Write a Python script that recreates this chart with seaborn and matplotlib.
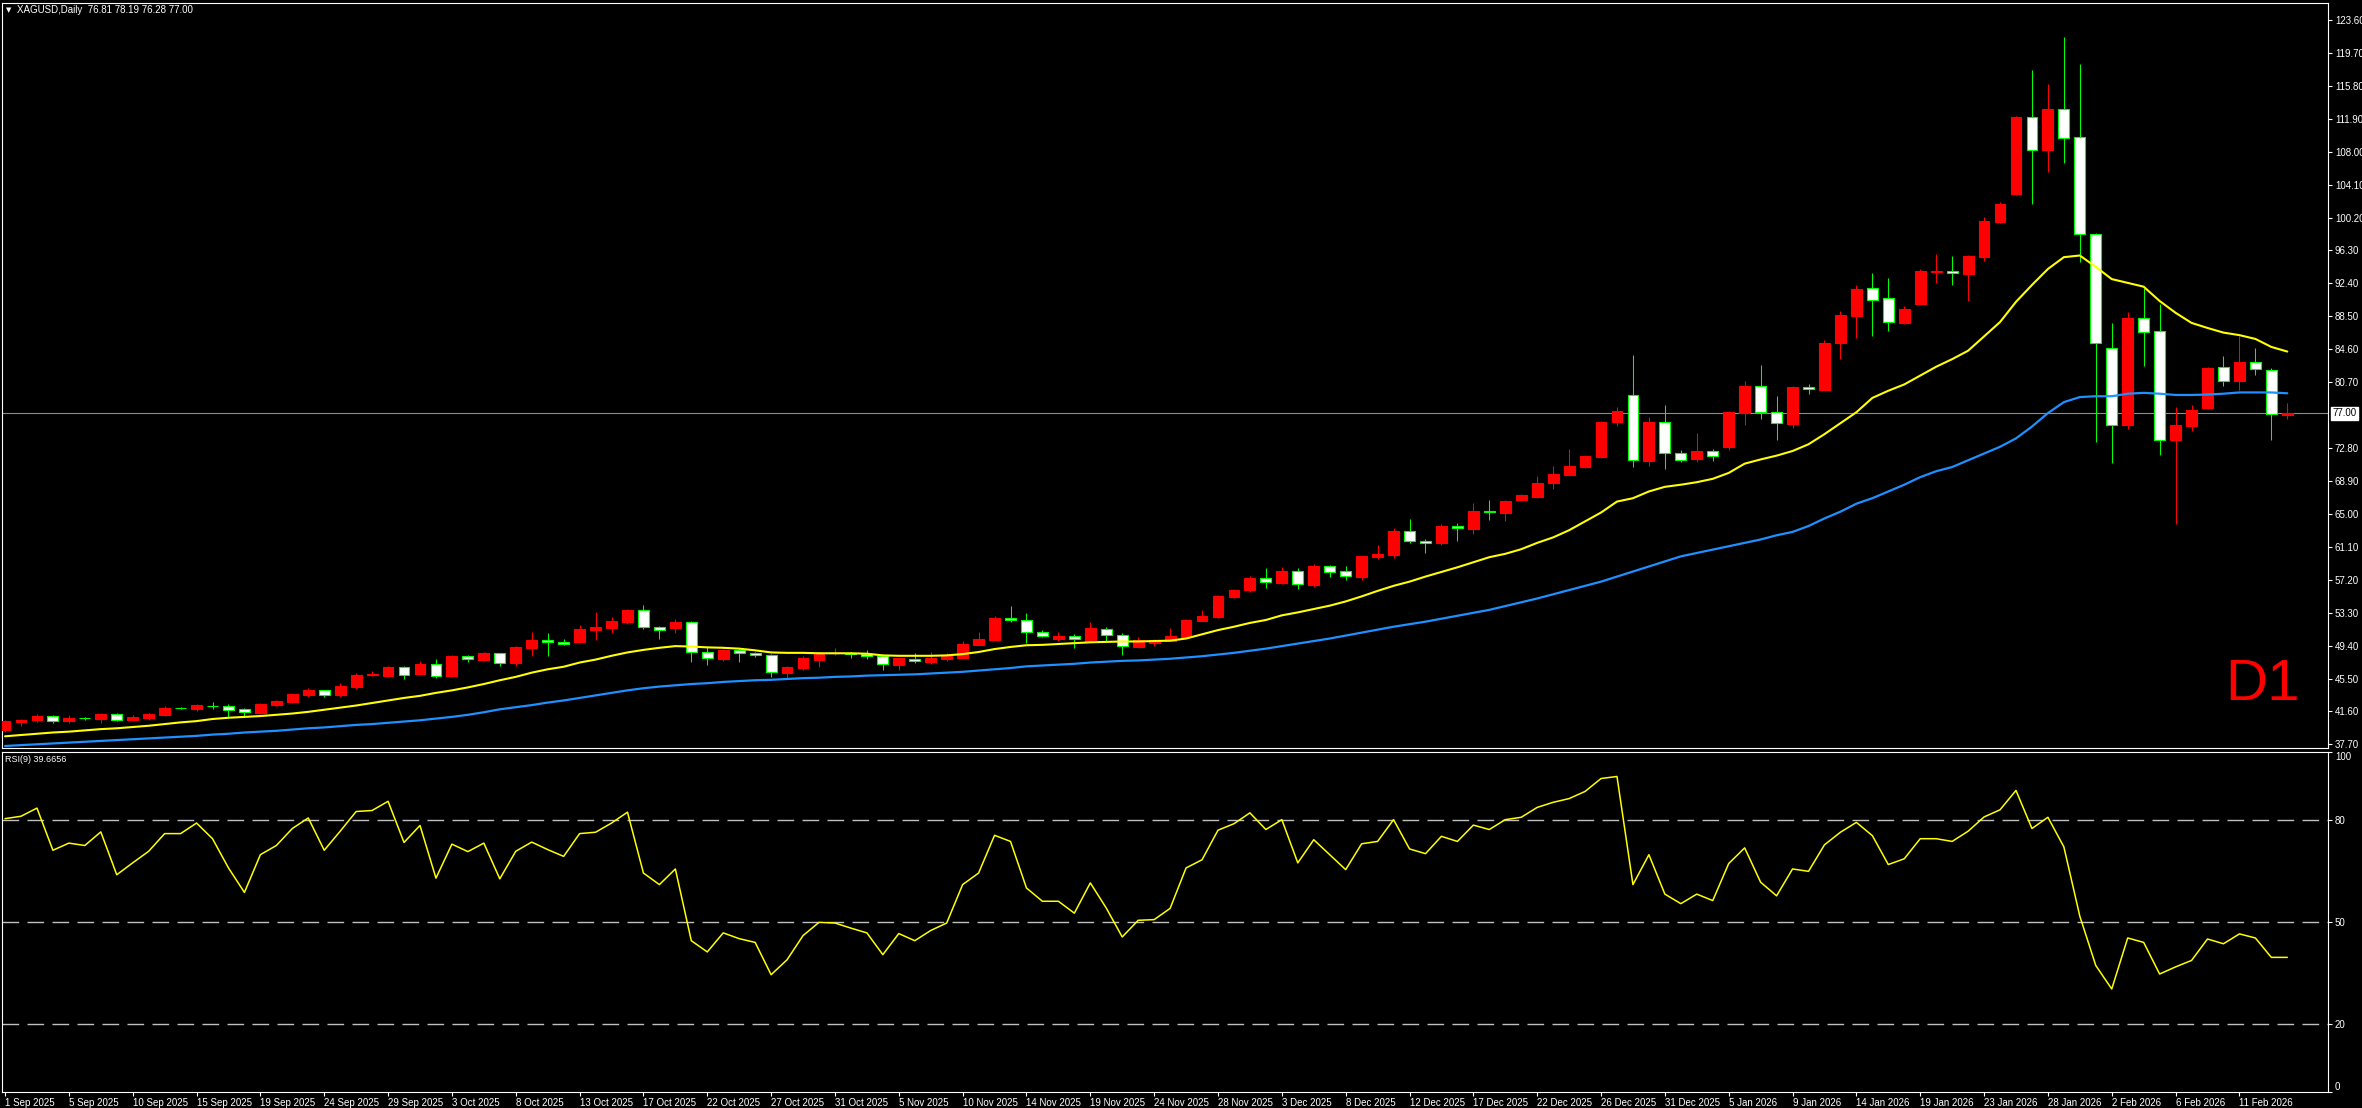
import numpy as np
import matplotlib
matplotlib.use("Agg")
import matplotlib.pyplot as plt
import matplotlib.transforms as mtransforms
import seaborn as sns

OPENS = [39.39, 40.38, 40.58, 41.01, 40.46, 40.80, 40.70, 41.29, 40.58, 40.81,
         41.17, 41.98, 41.88, 42.24, 42.24, 41.88, 41.41, 42.36, 42.71, 43.54,
         44.10, 43.54, 44.49, 45.88, 45.84, 46.87, 46.03, 47.22, 45.84, 48.17,
         47.70, 48.49, 47.38, 49.17, 50.07, 49.80, 49.88, 51.30, 51.54, 52.25,
         53.60, 51.58, 51.54, 52.17, 48.61, 47.86, 48.85, 48.49, 48.26, 46.20,
         46.79, 47.74, 48.49, 48.53, 48.41, 48.14, 47.15, 47.78, 47.50, 47.86,
         47.98, 49.48, 50.11, 52.64, 52.41, 50.98, 50.23, 50.51, 49.99, 51.34,
         50.63, 49.28, 49.68, 49.99, 50.43, 52.37, 52.80, 55.18, 56.05, 57.39,
         56.88, 58.22, 56.60, 58.82, 58.22, 57.59, 59.96, 60.20, 62.97, 61.78,
         61.62, 63.60, 63.29, 65.33, 65.19, 66.69, 67.02, 68.71, 69.64, 70.57,
         71.75, 75.89, 79.15, 71.33, 75.98, 72.30, 71.54, 72.51, 72.94, 77.03,
         80.20, 77.16, 75.68, 80.12, 79.78, 85.27, 88.56, 91.81, 90.63, 87.72,
         90.00, 93.78, 93.84, 93.50, 95.53, 99.71, 103.00, 112.08, 108.20, 113.14,
         109.76, 98.27, 84.72, 75.56, 88.31, 86.75, 73.78, 75.47, 77.58, 82.52,
         80.83, 83.07, 82.10, 76.81]
HIGHS = [40.58, 40.69, 41.29, 41.17, 41.13, 40.93, 41.45, 41.37, 41.13, 41.37,
         42.24, 42.12, 42.44, 42.71, 42.47, 41.96, 42.63, 42.90, 43.74, 44.33,
         44.18, 44.93, 46.11, 46.35, 47.02, 47.02, 47.54, 47.82, 48.29, 48.25,
         48.60, 48.57, 49.36, 51.02, 50.91, 50.19, 51.86, 53.40, 52.77, 53.75,
         54.23, 51.70, 52.57, 52.37, 49.28, 49.01, 49.01, 48.65, 48.37, 46.99,
         48.18, 48.61, 49.13, 48.65, 48.89, 48.26, 47.98, 48.49, 48.65, 48.53,
         49.96, 51.02, 52.92, 54.11, 53.24, 51.26, 50.98, 50.79, 52.21, 51.58,
         50.86, 50.39, 50.15, 51.50, 52.55, 53.63, 55.41, 56.09, 57.67, 58.62,
         58.74, 58.58, 59.09, 58.93, 58.86, 60.10, 61.39, 63.37, 64.43, 62.06,
         63.80, 63.96, 66.37, 66.69, 66.73, 67.45, 69.52, 70.70, 72.68, 72.05,
         76.10, 77.67, 83.92, 76.48, 78.00, 72.60, 74.58, 72.68, 77.24, 80.75,
         82.73, 79.02, 80.20, 80.41, 85.69, 89.15, 92.24, 93.63, 93.04, 89.70,
         94.14, 95.87, 95.61, 95.74, 100.26, 102.03, 112.30, 117.66, 116.10, 121.67,
         118.42, 98.36, 87.72, 88.98, 91.90, 90.00, 77.67, 78.00, 82.52, 83.79,
         86.11, 84.72, 82.31, 78.19]
LOWS = [39.19, 39.90, 40.38, 40.18, 40.18, 40.58, 40.26, 40.46, 40.42, 40.58,
        41.05, 41.84, 41.68, 41.92, 40.85, 40.89, 41.33, 42.30, 42.65, 43.34,
        43.34, 43.34, 44.29, 45.80, 45.72, 45.44, 45.88, 45.60, 45.72, 47.50,
        47.60, 46.98, 47.03, 48.22, 48.22, 49.44, 49.76, 50.11, 50.95, 52.01,
        51.42, 50.23, 50.95, 47.50, 47.15, 47.62, 47.50, 48.06, 45.72, 45.49,
        46.55, 46.91, 48.30, 47.98, 47.86, 46.55, 46.55, 47.38, 47.27, 47.58,
        47.90, 49.44, 50.07, 52.25, 49.76, 50.39, 49.99, 49.08, 49.90, 49.99,
        48.29, 49.20, 49.40, 49.90, 50.35, 52.29, 52.72, 55.10, 55.81, 56.28,
        56.76, 56.13, 56.40, 57.59, 57.19, 57.19, 59.73, 59.84, 61.59, 60.44,
        61.35, 61.86, 62.69, 64.31, 64.24, 66.60, 66.95, 67.95, 69.60, 70.49,
        71.70, 75.47, 70.57, 70.78, 70.36, 71.25, 71.21, 71.33, 72.60, 75.56,
        76.27, 73.78, 75.26, 79.23, 79.70, 83.37, 85.90, 86.20, 86.75, 87.59,
        89.90, 92.45, 92.24, 90.25, 95.07, 99.60, 102.88, 101.82, 105.62, 106.68,
        94.98, 73.53, 71.04, 75.13, 82.61, 72.05, 63.86, 74.92, 77.46, 80.20,
        79.69, 81.47, 73.78, 76.28]
CLOSES = [40.46, 40.62, 41.05, 40.50, 40.81, 40.77, 41.29, 40.58, 40.93, 41.29,
          42.04, 41.95, 42.36, 42.22, 41.80, 41.49, 42.47, 42.83, 43.66, 44.14,
          43.58, 44.61, 45.92, 46.07, 46.87, 45.96, 47.22, 45.84, 48.17, 47.78,
          48.53, 47.40, 49.24, 50.07, 49.80, 49.56, 51.38, 51.62, 52.33, 53.64,
          51.58, 51.22, 52.21, 48.61, 47.90, 48.89, 48.49, 48.26, 46.24, 46.87,
          47.94, 48.49, 48.53, 48.37, 48.14, 47.19, 47.94, 47.54, 47.94, 48.22,
          49.60, 50.19, 52.69, 52.41, 50.98, 50.51, 50.55, 50.15, 51.50, 50.63,
          49.32, 50.03, 50.03, 50.55, 52.45, 52.92, 55.30, 56.01, 57.43, 56.92,
          58.26, 56.68, 58.86, 58.18, 57.63, 60.04, 60.28, 63.01, 61.78, 61.55,
          63.60, 63.33, 65.38, 65.30, 66.57, 67.24, 68.76, 69.73, 70.70, 71.88,
          75.98, 77.24, 71.42, 75.98, 72.30, 71.42, 72.51, 71.96, 77.16, 80.20,
          77.16, 75.77, 80.12, 79.86, 85.35, 88.65, 91.73, 90.46, 87.80, 89.36,
          93.84, 93.84, 93.59, 95.61, 99.75, 101.86, 112.08, 108.20, 113.14, 109.63,
          98.27, 85.27, 75.64, 88.31, 86.62, 73.78, 75.56, 77.33, 82.40, 80.83,
          83.07, 82.23, 76.91, 77.00]

# moyennes mobiles (jaune = rapide, bleue = lente)
MA_RAPIDE = [38.65, 38.8, 38.95, 39.1, 39.2, 39.35, 39.5, 39.6, 39.75, 39.9,
             40.1, 40.3, 40.45, 40.7, 40.85, 40.95, 41.05, 41.2, 41.35, 41.55,
             41.8, 42.05, 42.3, 42.6, 42.9, 43.2, 43.45, 43.8, 44.1, 44.45,
             44.85, 45.3, 45.7, 46.2, 46.6, 46.9, 47.4, 47.75, 48.2, 48.6,
             48.9, 49.15, 49.35, 49.3, 49.2, 49.15, 49.05, 48.85, 48.6, 48.55,
             48.55, 48.5, 48.5, 48.5, 48.45, 48.25, 48.2, 48.2, 48.2, 48.25,
             48.4, 48.65, 49.0, 49.25, 49.45, 49.5, 49.6, 49.7, 49.8, 49.85,
             49.9, 49.9, 49.95, 50.0, 50.25, 50.75, 51.25, 51.65, 52.1, 52.45,
             53.0, 53.35, 53.75, 54.15, 54.65, 55.25, 55.9, 56.5, 57.0, 57.6,
             58.15, 58.7, 59.3, 59.9, 60.3, 60.85, 61.6, 62.25, 63.1, 64.15,
             65.2, 66.5, 66.9, 67.7, 68.25, 68.5, 68.8, 69.2, 69.9, 71.0,
             71.5, 71.95, 72.5, 73.3, 74.5, 75.8, 77.1, 78.8, 79.65, 80.4,
             81.45, 82.5, 83.4, 84.4, 86.1, 87.8, 90.2, 92.2, 94.1, 95.5,
             95.7, 94.35, 92.9, 92.45, 92.0, 90.3, 88.9, 87.7, 87.1, 86.55,
             86.25, 85.8, 84.85, 84.3]
MA_LENTE = [37.5, 37.6, 37.7, 37.8, 37.9, 38.0, 38.1, 38.2, 38.3, 38.4,
            38.5, 38.6, 38.7, 38.85, 38.95, 39.1, 39.2, 39.3, 39.45, 39.6,
            39.7, 39.85, 40.0, 40.1, 40.25, 40.4, 40.55, 40.75, 40.95, 41.2,
            41.5, 41.85, 42.1, 42.35, 42.65, 42.9, 43.2, 43.5, 43.8, 44.1,
            44.35, 44.55, 44.7, 44.85, 44.95, 45.1, 45.2, 45.3, 45.35, 45.45,
            45.55, 45.6, 45.7, 45.75, 45.85, 45.9, 45.95, 46.0, 46.1, 46.2,
            46.3, 46.45, 46.6, 46.75, 46.95, 47.05, 47.15, 47.25, 47.4, 47.5,
            47.6, 47.65, 47.75, 47.85, 48.0, 48.15, 48.35, 48.55, 48.8, 49.05,
            49.35, 49.65, 49.95, 50.25, 50.6, 50.95, 51.3, 51.65, 51.95, 52.25,
            52.6, 52.95, 53.3, 53.65, 54.1, 54.55, 55.0, 55.5, 56.0, 56.5,
            57.0, 57.6, 58.2, 58.8, 59.4, 60.0, 60.4, 60.8, 61.2, 61.6,
            62.0, 62.5, 62.9, 63.6, 64.5, 65.3, 66.25, 66.9, 67.7, 68.5,
            69.4, 70.1, 70.6, 71.4, 72.2, 73.0, 74.0, 75.4, 77.0, 78.3,
            78.9, 79.0, 79.0, 79.3, 79.4, 79.3, 79.15, 79.15, 79.2, 79.3,
            79.45, 79.45, 79.45, 79.35]

RSI_9 = [80.4, 81.1, 83.5, 71.1, 73.2, 72.5, 76.5, 63.9, 67.4, 70.8,
         76.0, 76.0, 79.1, 74.5, 65.9, 58.7, 69.8, 72.5, 77.5, 80.6,
         71.1, 76.7, 82.5, 82.8, 85.5, 73.4, 78.4, 62.9, 72.9, 70.7,
         73.2, 62.7, 70.8, 73.5, 71.3, 69.3, 76.0, 76.4, 79.1, 82.3,
         64.4, 61.0, 65.6, 44.5, 41.2, 46.8, 45.1, 44.0, 34.5, 38.9,
         46.0, 49.9, 49.7, 48.2, 46.8, 40.4, 46.6, 44.5, 47.5, 49.7,
         61.0, 64.4, 75.5, 73.7, 60.0, 56.1, 56.1, 52.6, 61.5, 54.1,
         45.6, 50.5, 50.7, 54.0, 65.9, 68.3, 77.0, 78.9, 82.1, 77.2,
         80.1, 67.4, 74.2, 69.8, 65.4, 73.0, 73.7, 80.1, 71.5, 70.1,
         75.2, 73.7, 78.5, 77.2, 80.1, 80.8, 83.7, 85.2, 86.3, 88.4,
         92.2, 92.8, 61.0, 69.8, 58.2, 55.4, 58.2, 56.3, 67.2, 71.8,
         61.7, 57.7, 65.6, 64.9, 72.7, 76.4, 79.3, 75.4, 66.9, 68.6,
         74.5, 74.5, 73.7, 76.7, 80.9, 83.0, 88.7, 77.5, 80.8, 72.1,
         51.7, 37.2, 30.3, 45.3, 44.0, 34.7, 36.8, 38.7, 45.0, 43.6,
         46.5, 45.3, 39.6, 39.6]

# une étiquette de date toutes les 4 bougies
DATE_LABELS = ["1 Sep 2025", "5 Sep 2025", "10 Sep 2025", "15 Sep 2025", "19 Sep 2025",
               "24 Sep 2025", "29 Sep 2025", "3 Oct 2025", "8 Oct 2025", "13 Oct 2025",
               "17 Oct 2025", "22 Oct 2025", "27 Oct 2025", "31 Oct 2025", "5 Nov 2025",
               "10 Nov 2025", "14 Nov 2025", "19 Nov 2025", "24 Nov 2025", "28 Nov 2025",
               "3 Dec 2025", "8 Dec 2025", "12 Dec 2025", "17 Dec 2025", "22 Dec 2025",
               "26 Dec 2025", "31 Dec 2025", "5 Jan 2026", "9 Jan 2026", "14 Jan 2026",
               "19 Jan 2026", "23 Jan 2026", "28 Jan 2026", "2 Feb 2026", "6 Feb 2026",
               "11 Feb 2026"]
PRICE_TICKS = [123.60, 119.70, 115.80, 111.90, 108.00, 104.10, 100.20, 96.30, 92.40,
               88.50, 84.60, 80.70, 72.80, 68.90, 65.00, 61.10, 57.20, 53.30, 49.40,
               45.50, 41.60, 37.70]
RSI_TICKS = [100, 80, 50, 20, 0]
RSI_LEVELS = [80, 50, 20]
LAST_PRICE = 77.00
HEADER = "XAGUSD,Daily  76.81 78.19 76.28 77.00"
RSI_HEADER = "RSI(9) 39.6656"

# --- STYLE ---
W, H = 2362, 1108
BULL = "#ff0000"
BEAR_EDGE = "#00ff00"
sns.set_theme(style="dark", rc={"axes.facecolor": "black", "figure.facecolor": "black"})
plt.rcParams["font.family"] = ["Liberation Sans", "DejaVu Sans"]

fig = plt.figure(figsize=(W / 100, H / 100), dpi=100)

def fig_box(x0, y0, x1, y1):
    """Convertit un rectangle en pixels (origine en haut) en coordonnées figure."""
    return [x0 / W, 1 - y1 / H, (x1 - x0) / W, (y1 - y0) / H]

ax = fig.add_axes(fig_box(2, 3, 2328, 748))
ax_rsi = fig.add_axes(fig_box(2, 752, 2328, 1092), sharex=ax)

x = np.arange(len(CLOSES))
o, h, l, c = map(np.array, (OPENS, HIGHS, LOWS, CLOSES))
hausse = c >= o

# ligne du dernier prix (derrière les bougies)
ax.axhline(LAST_PRICE, color="#8c8c96", lw=0.8, zorder=1)

# bougies : rouge = hausse, blanc bordé de vert = baisse
couleur_meche = np.where(hausse, BULL, BEAR_EDGE)
ax.vlines(x, l, h, colors=couleur_meche, linewidth=0.75, zorder=2)
bas = np.minimum(o, c)
hauteur = np.maximum(np.abs(c - o), 0.04)
ax.bar(x, hauteur, bottom=bas, width=0.68,
       color=np.where(hausse, BULL, "white"),
       edgecolor=np.where(hausse, BULL, BEAR_EDGE),
       linewidth=0.8, zorder=3)

# moyennes mobiles
sns.lineplot(x=x, y=MA_RAPIDE, ax=ax, color="#ffff00", linewidth=1.5, zorder=4)
sns.lineplot(x=x, y=MA_LENTE, ax=ax, color="#1e90ff", linewidth=1.6, zorder=4)

ax.set_xlim(-0.19, 145.55)
ax.set_ylim(37.26, 125.66)

# RSI
for niveau in RSI_LEVELS:
    ax_rsi.axhline(niveau, color="#c0c0c0", lw=1.0, linestyle=(0, (12, 6)), zorder=1)
sns.lineplot(x=x, y=RSI_9, ax=ax_rsi, color="#ffff00", linewidth=1.1, zorder=3)
ax_rsi.set_ylim(0, 100)

# axes, bordures, graduations
for a in (ax, ax_rsi):
    a.set_facecolor("black")
    a.grid(False)
    a.set_xlabel("")
    a.set_ylabel("")
    for s in a.spines.values():
        s.set_color("white")
        s.set_linewidth(0.8)
    a.yaxis.tick_right()
    a.tick_params(axis="y", colors="white", labelcolor="white", labelsize=7,
                  length=3, width=0.8, pad=2, right=True, left=False)

ax.set_yticks(PRICE_TICKS)
ax.set_yticklabels([f"{v:.2f}" for v in PRICE_TICKS])
ax.tick_params(axis="x", bottom=False, labelbottom=False)

ax_rsi.set_yticks(RSI_TICKS)
ax_rsi.set_yticklabels([str(v) for v in RSI_TICKS])
for lbl in ax_rsi.get_yticklabels():
    if lbl.get_text() == "100":
        lbl.set_va("top")
    elif lbl.get_text() == "0":
        lbl.set_va("bottom")

ax_rsi.set_xticks(np.arange(0, 4 * len(DATE_LABELS), 4))
ax_rsi.set_xticklabels(DATE_LABELS)
ax_rsi.tick_params(axis="x", colors="white", labelcolor="white", labelsize=7,
                   length=3, width=0.8, pad=1, bottom=True)
for lbl in ax_rsi.get_xticklabels():
    lbl.set_ha("left")

# étiquette du dernier prix
trans = mtransforms.blended_transform_factory(ax.transAxes, ax.transData)
ax.annotate(f"{LAST_PRICE:.2f}", xy=(1, LAST_PRICE), xycoords=trans,
            xytext=(3, 0), textcoords="offset points", ha="left", va="center",
            fontsize=7, color="black", annotation_clip=False,
            bbox=dict(boxstyle="square,pad=0.15", fc="white", ec="white"))

# textes
ax.text(0.988, 0.064, "D1", transform=ax.transAxes, ha="right", va="baseline",
        fontsize=42, color="#ff0000")
fig.text(6 / W, 1 - 10 / H, "▼", fontsize=5, color="white", va="center",
         family=["DejaVu Sans"])
fig.text(17 / W, 1 - 10 / H, HEADER, fontsize=7, color="white", va="center")
fig.text(5 / W, 1 - 760 / H, RSI_HEADER, fontsize=6.5, color="white", va="center")

fig.savefig("out.png", dpi=100, facecolor="black")
print("Graphique généré : out.png")
